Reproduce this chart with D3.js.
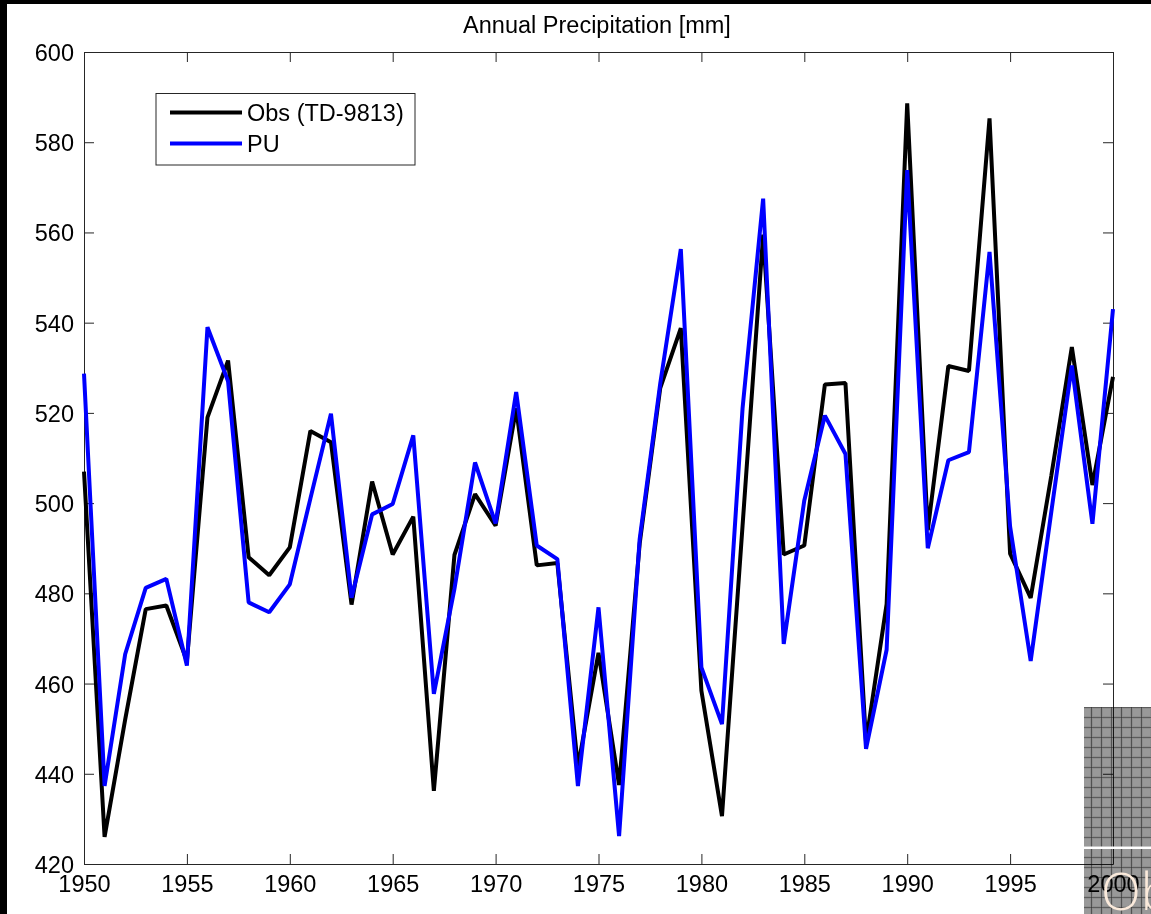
<!DOCTYPE html>
<html>
<head>
<meta charset="utf-8">
<script src="https://cdn.jsdelivr.net/npm/d3@7"></script>
<style>
  html, body { margin: 0; padding: 0; background: #fff; }
  svg { display: block; }
  text { font-family: "Liberation Sans", Arial, sans-serif; }
</style>
</head>
<body>
<svg id="chart" width="1151" height="914"></svg>
<script>
// data
const years = [1950, 1951, 1952, 1953, 1954, 1955, 1956, 1957, 1958, 1959,
  1960, 1961, 1962, 1963, 1964, 1965, 1966, 1967, 1968, 1969,
  1970, 1971, 1972, 1973, 1974, 1975, 1976, 1977, 1978, 1979,
  1980, 1981, 1982, 1983, 1984, 1985, 1986, 1987, 1988, 1989,
  1990, 1991, 1992, 1993, 1994, 1995, 1996, 1997, 1998, 1999, 2000];

const obs = [507, 426, 452, 476.5, 477.3, 465, 519, 531.6, 488, 484,
  490.2, 516, 513.5, 477.5, 504.8, 488.6, 497, 436.2, 488.5, 502,
  495, 521, 486.2, 486.7, 441.5, 466.8, 437.5, 491, 525.5, 538.8,
  458.4, 430.6, 495, 559.5, 488.6, 490.6, 526.3, 526.6, 447, 477.6,
  588.6, 494, 530.4, 529.3, 585.3, 488.8, 479, 506, 534.6, 504, 528];

const pu = [528.7, 437.3, 466.5, 481.2, 483.2, 464, 539, 527, 478, 475.8,
  482, 501, 519.8, 479, 497.5, 499.8, 515, 457.7, 481, 509,
  495.5, 524.6, 490.6, 487.6, 437.3, 476.9, 426.2, 492, 526.5, 556.3,
  463.6, 451, 521, 567.5, 468.8, 500.6, 519.4, 510.9, 445.5, 467.5,
  573.8, 490, 509.5, 511.3, 555.7, 494.8, 465, 498, 530.5, 495.4, 543];

const xTicks = [1950, 1955, 1960, 1965, 1970, 1975, 1980, 1985, 1990, 1995, 2000];
const yTicks = [420, 440, 460, 480, 500, 520, 540, 560, 580, 600];

const seriesNames = ['Obs (TD-9813)', 'PU'];
const seriesColors = ['#000000', '#0000ff'];

const svg = d3.select('#chart');
const W = 1151, H = 914;
const fontSize = 23.5;

svg.append('rect').attr('width', W).attr('height', H).attr('fill', '#fff');

const x = d3.scaleLinear().domain([1950, 2000]).range([84, 1113]);
const y = d3.scaleLinear().domain([420, 600]).range([864, 52]);

// plot area
svg.append('rect')
  .attr('x', x(1950)).attr('y', y(600))
  .attr('width', x(2000) - x(1950)).attr('height', y(420) - y(600))
  .attr('fill', '#fff');

const axisColor = '#262626';
function styleAxis(g) {
  g.select('.domain').attr('stroke', axisColor);
  g.selectAll('.tick line').attr('stroke', axisColor);
  g.selectAll('.tick text')
    .attr('fill', '#000')
    .style('font-family', '"Liberation Sans", Arial, sans-serif')
    .style('font-size', fontSize + 'px');
}

svg.append('g')
  .attr('transform', `translate(0,${y(420)})`)
  .call(d3.axisBottom(x).tickValues(xTicks).tickFormat(d3.format('d'))
    .tickSize(-10).tickSizeOuter(0).tickPadding(11))
  .call(styleAxis);

svg.append('g')
  .attr('transform', `translate(0,${y(600)})`)
  .call(d3.axisTop(x).tickValues(xTicks).tickFormat('')
    .tickSize(-10).tickSizeOuter(0))
  .call(styleAxis);

svg.append('g')
  .attr('transform', `translate(${x(1950)},0)`)
  .call(d3.axisLeft(y).tickValues(yTicks).tickFormat(d3.format('d'))
    .tickSize(-10).tickSizeOuter(0).tickPadding(10))
  .call(styleAxis)
  .selectAll('.tick text').attr('dy', '0.36em');

svg.append('g')
  .attr('transform', `translate(${x(2000)},0)`)
  .call(d3.axisRight(y).tickValues(yTicks).tickFormat('')
    .tickSize(-10).tickSizeOuter(0))
  .call(styleAxis);

// lines
const line = d3.line()
  .x((d, i) => x(years[i]))
  .y(d => y(d));

[obs, pu].forEach((vals, k) => {
  svg.append('path')
    .datum(vals)
    .attr('d', line)
    .attr('fill', 'none')
    .attr('stroke', seriesColors[k])
    .attr('stroke-width', 4)
    .attr('stroke-linejoin', 'bevel');
});

// title
svg.append('text')
  .attr('x', 597).attr('y', 33)
  .attr('text-anchor', 'middle')
  .style('font-size', fontSize + 'px')
  .text('Annual Precipitation [mm]');

// legend
const leg = svg.append('g');
leg.append('rect')
  .attr('x', 156).attr('y', 93.5).attr('width', 259).attr('height', 71.5)
  .attr('fill', '#fff').attr('stroke', axisColor).attr('stroke-width', 1);
seriesNames.forEach((name, k) => {
  const ly = 112.5 + k * 31;
  leg.append('line')
    .attr('x1', 170).attr('x2', 242).attr('y1', ly).attr('y2', ly)
    .attr('stroke', seriesColors[k]).attr('stroke-width', 4);
  leg.append('text')
    .attr('x', 247).attr('y', ly).attr('dy', '0.36em')
    .style('font-size', fontSize + 'px')
    .text(name);
});

// window edges (black strips top and left)
svg.append('rect').attr('x', 0).attr('y', 0).attr('width', W).attr('height', 4).attr('fill', '#000');
svg.append('rect').attr('x', 0).attr('y', 0).attr('width', 7).attr('height', H).attr('fill', '#000');

// grey overlay patch, bottom right
const defs = svg.append('defs');
const pat = defs.append('pattern')
  .attr('id', 'grid')
  .attr('patternUnits', 'userSpaceOnUse')
  .attr('x', 1081).attr('y', 707)
  .attr('width', 10).attr('height', 10);
pat.append('rect').attr('width', 10).attr('height', 10).attr('fill', '#8e8e8e');
pat.append('rect').attr('x', 2).attr('y', 2).attr('width', 7).attr('height', 7).attr('fill', '#999');
pat.append('path').attr('d', 'M0,0H10M0,0V10').attr('stroke', '#2a2a2a').attr('stroke-width', 1.2);

svg.append('rect')
  .attr('x', 1084).attr('y', 707).attr('width', W - 1084).attr('height', H - 707)
  .attr('fill', 'url(#grid)')
  .style('mix-blend-mode', 'multiply');

svg.append('rect')
  .attr('x', 1084).attr('y', 846.5).attr('width', W - 1084).attr('height', 2.5)
  .attr('fill', '#fff');

svg.append('text')
  .attr('x', 1101).attr('y', 910)
  .style('font-family', '"Open Sans", "DejaVu Sans", sans-serif')
  .style('font-weight', 300)
  .style('font-size', '52px')
  .attr('fill', '#fbeadb')
  .text('Ob');
</script>
</body>
</html>
